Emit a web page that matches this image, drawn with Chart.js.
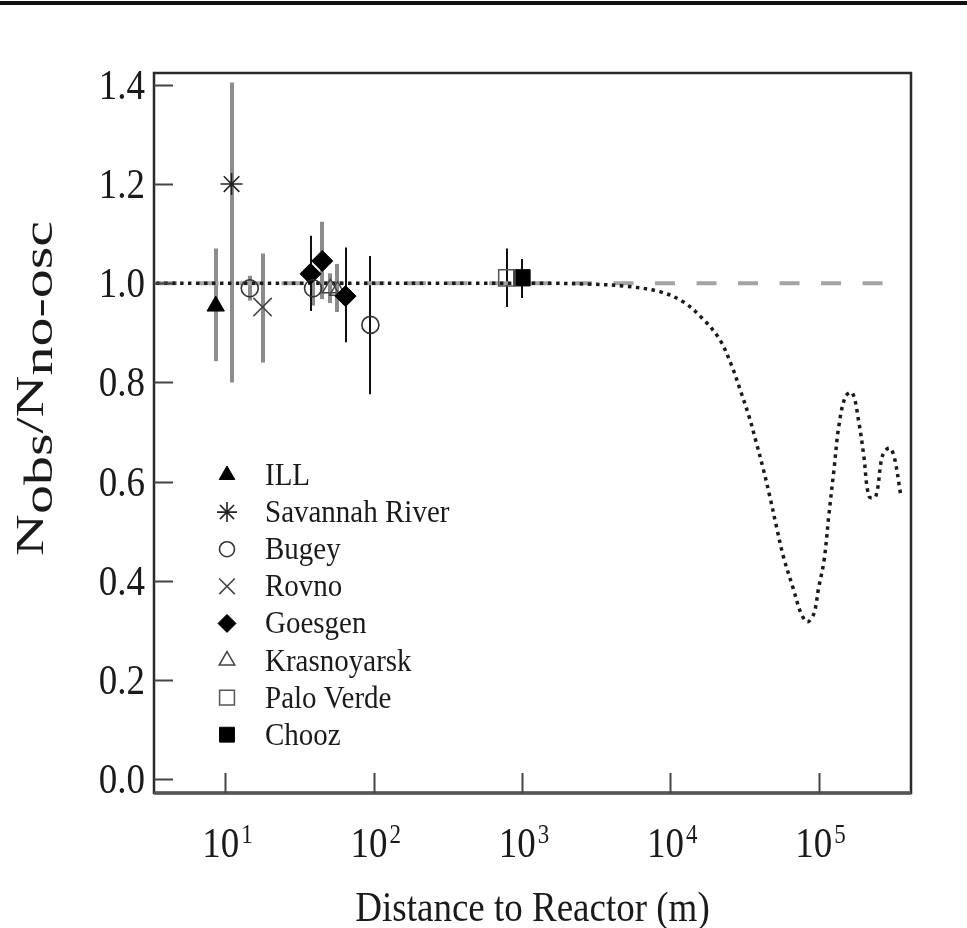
<!DOCTYPE html>
<html>
<head>
<meta charset="utf-8">
<script src="https://cdn.jsdelivr.net/npm/chart.js@4.4.1/dist/chart.umd.min.js"></script>
<style>
  html, body { margin: 0; padding: 0; background: #fff; }
  #wrap { width: 967px; height: 928px; }
</style>
</head>
<body>
<div id="wrap"><canvas id="chart" width="967" height="928"></canvas></div>
<script>
// --- data ---
const xTicks = [10, 100, 1000, 10000, 100000];
const xTickExponents = ['1', '2', '3', '4', '5'];
const yTicks = [0, 0.2, 0.4, 0.6, 0.8, 1.0, 1.2, 1.4];
const yTickLabels = ['0.0', '0.2', '0.4', '0.6', '0.8', '1.0', '1.2', '1.4'];

const experimentNames = ['ILL', 'Savannah River', 'Bugey', 'Rovno', 'Goesgen', 'Krasnoyarsk', 'Palo Verde', 'Chooz'];

// distance (m), Nobs/Nno-osc, error bar low / high
const illDist = [8.6];
const illRatio = [0.954];
const illLow = [0.843];
const illHigh = [1.07];

const savannahDist = [11];
const savannahRatio = [1.2];
const savannahLow = [0.80];
const savannahHigh = [1.405];

const bugeyDist = [14.6, 39, 95];
const bugeyRatio = [0.99, 0.99, 0.916];
const bugeyLow = [0.965, 0.955, 0.776];
const bugeyHigh = [1.015, 1.025, 1.055];

const rovnoDist = [17.8];
const rovnoRatio = [0.952];
const rovnoLow = [0.84];
const rovnoHigh = [1.06];

const goesgenDist = [37.5, 45, 64.6];
const goesgenRatio = [1.019, 1.045, 0.974];
const goesgenLow = [0.944, 0.968, 0.881];
const goesgenHigh = [1.096, 1.124, 1.072];

const krasDist = [51, 57];
const krasRatio = [0.99, 0.985];
const krasLow = [0.96, 0.942];
const krasHigh = [1.02, 1.039];

const paloDist = [790];
const paloRatio = [1.011];
const paloLow = [0.952];
const paloHigh = [1.07];

const choozDist = [1000];
const choozRatio = [1.011];
const choozLow = [0.97];
const choozHigh = [1.049];

// expected curve (dotted)
const curveDist = [3.4, 30, 300, 1500, 3000, 5000, 8500, 12300, 16600, 21500, 26000, 30000, 34000, 38000,
  42000, 47000, 52000, 58000, 68000, 76000, 84000, 93000, 100000, 109000, 117000, 127000, 137000,
  152000, 169000, 187000, 202000, 219000, 243000, 269000, 299000, 323000, 358000];
const curveRatio = [1.0, 1.0, 1.0, 1.0, 0.998, 0.994, 0.983, 0.962, 0.928, 0.887, 0.833, 0.78, 0.731, 0.679,
  0.63, 0.569, 0.509, 0.448, 0.381, 0.335, 0.317, 0.334, 0.385, 0.442, 0.529, 0.624, 0.712,
  0.772, 0.779, 0.719, 0.651, 0.57, 0.57, 0.651, 0.668, 0.651, 0.573];

// no-oscillation reference (dashed)
const noOscDist = [270000, 3.4];
const noOscRatio = [1.0, 1.0];

// --- styles ---
const GRAY_BAR = '#8c8c8c';
const BLACK_BAR = '#111';
const serif = '"Liberation Serif", "Times New Roman", serif';

const toPoints = (xs, ys) => xs.map((x, i) => ({ x: x, y: ys[i] }));

const markerDatasets = [
  { label: 'ILL', data: toPoints(illDist, illRatio), low: illLow, high: illHigh, bars: [GRAY_BAR], legendR: 9,
    pointStyle: 'triangle', pointRadius: 10, backgroundColor: '#000', borderColor: '#000', borderWidth: 1 },
  { label: 'Savannah River', data: toPoints(savannahDist, savannahRatio), low: savannahLow, high: savannahHigh, bars: [GRAY_BAR], legendR: 10,
    pointStyle: 'star', pointRadius: 11, backgroundColor: 'transparent', borderColor: '#222', borderWidth: 1.6 },
  { label: 'Bugey', data: toPoints(bugeyDist, bugeyRatio), low: bugeyLow, high: bugeyHigh, bars: [GRAY_BAR, GRAY_BAR, BLACK_BAR], legendR: 7.5,
    pointStyle: 'circle', pointRadius: 8.5, backgroundColor: 'transparent', borderColor: '#333', borderWidth: 1.6 },
  { label: 'Rovno', data: toPoints(rovnoDist, rovnoRatio), low: rovnoLow, high: rovnoHigh, bars: [GRAY_BAR], legendR: 11,
    pointStyle: 'crossRot', pointRadius: 13, backgroundColor: 'transparent', borderColor: '#444', borderWidth: 1.6 },
  { label: 'Goesgen', data: toPoints(goesgenDist, goesgenRatio), low: goesgenLow, high: goesgenHigh, bars: [BLACK_BAR, GRAY_BAR, BLACK_BAR], legendR: 9,
    pointStyle: 'rectRot', pointRadius: 10.5, backgroundColor: '#000', borderColor: '#000', borderWidth: 1 },
  { label: 'Krasnoyarsk', data: toPoints(krasDist, krasRatio), low: krasLow, high: krasHigh, bars: [GRAY_BAR, GRAY_BAR], legendR: 9,
    pointStyle: 'triangle', pointRadius: 9, backgroundColor: 'transparent', borderColor: '#444', borderWidth: 1.5 },
  { label: 'Palo Verde', data: toPoints(paloDist, paloRatio), low: paloLow, high: paloHigh, bars: [BLACK_BAR], legendR: 10.5,
    pointStyle: 'rect', pointRadius: 11.5, backgroundColor: 'transparent', borderColor: '#555', borderWidth: 1.5 },
  { label: 'Chooz', data: toPoints(choozDist, choozRatio), low: choozLow, high: choozHigh, bars: [BLACK_BAR], legendR: 10.5,
    pointStyle: 'rect', pointRadius: 11.5, backgroundColor: '#000', borderColor: '#000', borderWidth: 1 }
];

const datasets = markerDatasets.map(d => Object.assign({ showLine: false, pointHoverRadius: d.pointRadius }, d));
datasets.push({
  label: 'curve', data: toPoints(curveDist, curveRatio), showLine: true, pointRadius: 0,
  borderColor: '#1a1a1a', borderWidth: 3.5, borderDash: [3.5, 4.5], tension: 0.35
});
datasets.push({
  label: 'no-osc', data: toPoints(noOscDist, noOscRatio), showLine: true, pointRadius: 0,
  borderColor: '#a3a3a3', borderWidth: 4, borderDash: [20, 21.5]
});

// text drawn a little tall, like the original print
const drawText = (ctx, text, x, y, font, align, sy) => {
  ctx.save();
  ctx.translate(x, y);
  ctx.scale(1, sy);
  ctx.font = font;
  ctx.textAlign = align;
  ctx.textBaseline = 'alphabetic';
  ctx.fillText(text, 0, 0);
  ctx.restore();
};

const errorBars = {
  id: 'errorBars',
  beforeDatasetsDraw(chart) {
    const ctx = chart.ctx;
    const xs = chart.scales.x, ys = chart.scales.y;
    const a = chart.chartArea;
    ctx.save();
    ctx.beginPath();
    ctx.rect(a.left, a.top, a.right - a.left, a.bottom - a.top);
    ctx.clip();
    chart.data.datasets.forEach(ds => {
      if (!ds.low) return;
      ds.data.forEach((p, i) => {
        const px = Math.round(xs.getPixelForValue(p.x));
        const gray = ds.bars[i] === GRAY_BAR;
        ctx.strokeStyle = ds.bars[i];
        ctx.lineWidth = gray ? 4 : 2;
        ctx.beginPath();
        ctx.moveTo(px, ys.getPixelForValue(ds.low[i]));
        ctx.lineTo(px, ys.getPixelForValue(ds.high[i]));
        ctx.stroke();
      });
    });
    ctx.restore();
  }
};

const frameAndText = {
  id: 'frameAndText',
  afterDraw(chart) {
    const ctx = chart.ctx;
    const a = chart.chartArea;
    const xs = chart.scales.x, ys = chart.scales.y;
    ctx.save();

    // page rule at the very top
    ctx.fillStyle = '#111';
    ctx.fillRect(0, 1, chart.width, 4);

    // frame
    ctx.strokeStyle = '#2a2a2a';
    ctx.lineWidth = 2.5;
    ctx.strokeRect(a.left, a.top, a.right - a.left, a.bottom - a.top);
    ctx.strokeStyle = '#555';
    ctx.lineWidth = 3.5;
    ctx.beginPath();
    ctx.moveTo(a.left, a.bottom);
    ctx.lineTo(a.right, a.bottom);
    ctx.stroke();

    // inward ticks
    ctx.strokeStyle = '#444';
    ctx.lineWidth = 2;
    yTicks.forEach(v => {
      const y = Math.round(ys.getPixelForValue(v)) + 0.5;
      ctx.beginPath();
      ctx.moveTo(a.left, y);
      ctx.lineTo(a.left + 19, y);
      ctx.stroke();
    });
    xTicks.forEach(v => {
      const x = Math.round(xs.getPixelForValue(v)) + 0.5;
      ctx.beginPath();
      ctx.moveTo(x, a.bottom);
      ctx.lineTo(x, a.bottom - 20);
      ctx.stroke();
    });

    ctx.fillStyle = '#1a1a1a';
    // y tick labels
    yTicks.forEach((v, i) => {
      const y = ys.getPixelForValue(v);
      drawText(ctx, yTickLabels[i], a.left - 9, y + 14, '37px ' + serif, 'right', 1.15);
    });

    // x tick labels: 10 with superscript exponent
    xTicks.forEach((v, i) => {
      const x = xs.getPixelForValue(v);
      ctx.font = '37px ' + serif;
      const wBase = ctx.measureText('10').width;
      ctx.font = '23px ' + serif;
      const wExp = ctx.measureText(xTickExponents[i]).width;
      const start = x - (wBase + wExp + 2) / 2 + 2;
      drawText(ctx, '10', start, 857, '37px ' + serif, 'left', 1.15);
      drawText(ctx, xTickExponents[i], start + wBase + 2, 843, '23px ' + serif, 'left', 1.15);
    });

    // x axis title
    drawText(ctx, 'Distance to Reactor (m)', (a.left + a.right) / 2, 921, '37px ' + serif, 'center', 1.15);

    // y axis title: N_obs / N_no-osc, rotated
    ctx.save();
    ctx.translate(43, 556);
    ctx.rotate(-Math.PI / 2);
    ctx.scale(1.45, 1);
    const parts = [
      { t: 'N', f: '40px ' + serif, dy: 0 },
      { t: 'obs', f: '40px ' + serif, dy: 9 },
      { t: '/', f: '40px ' + serif, dy: 0 },
      { t: 'N', f: '40px ' + serif, dy: 0 },
      { t: 'no-osc', f: '40px ' + serif, dy: 9 }
    ];
    let cx = 0;
    ctx.textAlign = 'left';
    parts.forEach(p => {
      ctx.font = p.f;
      ctx.fillText(p.t, cx, p.dy);
      cx += ctx.measureText(p.t).width;
    });
    ctx.restore();

    // legend inside the plot
    const legendX = 227, legendTextX = 265, legendY0 = 475, legendStep = 37.1;
    markerDatasets.forEach((d, i) => {
      const y = legendY0 + i * legendStep;
      ctx.fillStyle = d.backgroundColor;
      ctx.strokeStyle = d.borderColor;
      ctx.lineWidth = d.borderWidth;
      Chart.helpers.drawPoint(ctx, {
        pointStyle: d.pointStyle,
        radius: d.legendR,
        rotation: 0,
        borderWidth: d.borderWidth
      }, legendX, y);
      ctx.fillStyle = '#1a1a1a';
      drawText(ctx, experimentNames[i], legendTextX, y + 10, '29px ' + serif, 'left', 1.1);
    });

    ctx.restore();
  }
};

new Chart(document.getElementById('chart'), {
  type: 'scatter',
  data: { datasets: datasets },
  options: {
    responsive: false,
    animation: false,
    devicePixelRatio: 1,
    layout: { padding: { left: 154, right: 56, top: 73, bottom: 135 } },
    plugins: {
      legend: { display: false },
      tooltip: { enabled: false }
    },
    scales: {
      x: { type: 'logarithmic', min: 3.3, max: 420000, display: false },
      y: { type: 'linear', min: -0.028, max: 1.424, display: false }
    }
  },
  plugins: [errorBars, frameAndText]
});
</script>
</body>
</html>
